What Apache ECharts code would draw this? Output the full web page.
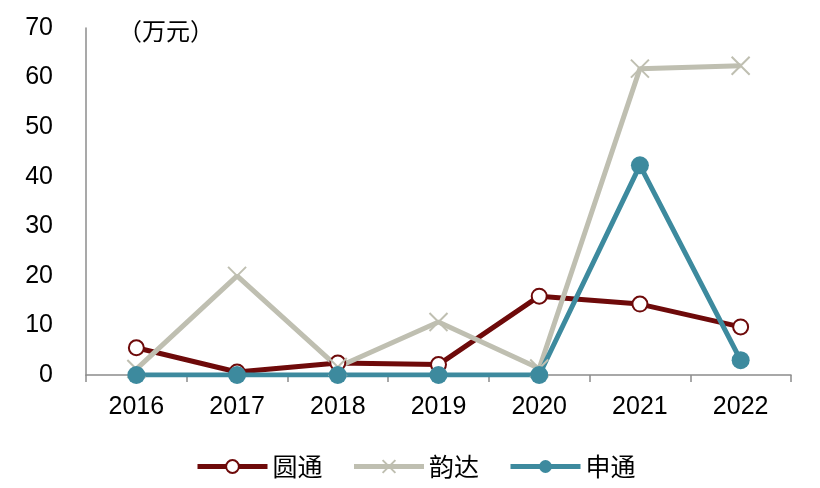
<!DOCTYPE html>
<html><head><meta charset="utf-8">
<script src="https://cdn.jsdelivr.net/npm/echarts@6/dist/echarts.min.js"></script>
<style>html,body{margin:0;padding:0;background:#fff}#c{width:820px;height:488px}</style>
</head><body><div id="c"></div>
<script>
const categories = ['2016','2017','2018','2019','2020','2021','2022'];
const yuantong = [5.5, 0.6, 2.4, 2.1, 15.9, 14.3, 9.7];
const yunda = [1.2, 20.0, 1.6, 10.7, 1.3, 61.8, 62.4];
const shentong = [0, 0, 0, 0, 0, 42.3, 3.0];
const yTicks = [0, 10, 20, 30, 40, 50, 60, 70];

const font = '"Liberation Sans", Arial, "Noto Sans CJK SC", sans-serif';
const chart = echarts.init(document.getElementById('c'));
chart.setOption({
  animation: false,
  backgroundColor: '#fff',
  grid: { left: 86, right: 29, top: 28, bottom: 113 },
  graphic: [{
    type: 'text', left: 118, top: 19,
    style: { text: '（万元）', font: '24px "Noto Sans CJK SC", sans-serif', fill: '#000' }
  }],
  legend: {
    bottom: 4, left: 190, itemWidth: 70, itemHeight: 16, itemGap: 29,
    lineStyle: { width: 5 },
    textStyle: { fontSize: 25, color: '#000', fontFamily: '"Noto Sans CJK SC", sans-serif' },
    data: ['圆通', '韵达', '申通']
  },
  xAxis: {
    type: 'category', data: categories, boundaryGap: true,
    axisLine: { lineStyle: { color: '#8c8c8c', width: 1.5 } },
    axisTick: { show: true, length: 7, lineStyle: { color: '#8c8c8c', width: 1.5 } },
    axisLabel: { color: '#000', fontSize: 25, margin: 20, fontFamily: font }
  },
  yAxis: {
    type: 'value', min: yTicks[0], max: yTicks[yTicks.length-1], interval: 10,
    splitLine: { show: false },
    axisLine: { show: true, lineStyle: { color: '#8c8c8c', width: 1.5 } },
    axisTick: { show: false },
    axisLabel: { color: '#000', fontSize: 25, margin: 33, fontFamily: font }
  },
  series: [
    {
      name: '圆通', type: 'line', data: yuantong,
      lineStyle: { color: '#6e0a0a', width: 5 },
      symbol: 'circle', symbolSize: 15,
      itemStyle: { color: '#fff', borderColor: '#6e0a0a', borderWidth: 2 }
    },
    {
      name: '韵达', type: 'line', data: yunda,
      lineStyle: { color: '#bfbfb1', width: 5 },
      symbol: 'path://M0,0L10,10M10,0L0,10', symbolSize: 18,
      itemStyle: { color: '#bfbfb1', borderColor: '#bfbfb1', borderWidth: 2 }
    },
    {
      name: '申通', type: 'line', data: shentong,
      lineStyle: { color: '#3d8a9e', width: 5 },
      symbol: 'circle', symbolSize: 18,
      itemStyle: { color: '#3d8a9e', borderColor: '#3d8a9e', borderWidth: 0 }
    }
  ]
});
</script></body></html>
